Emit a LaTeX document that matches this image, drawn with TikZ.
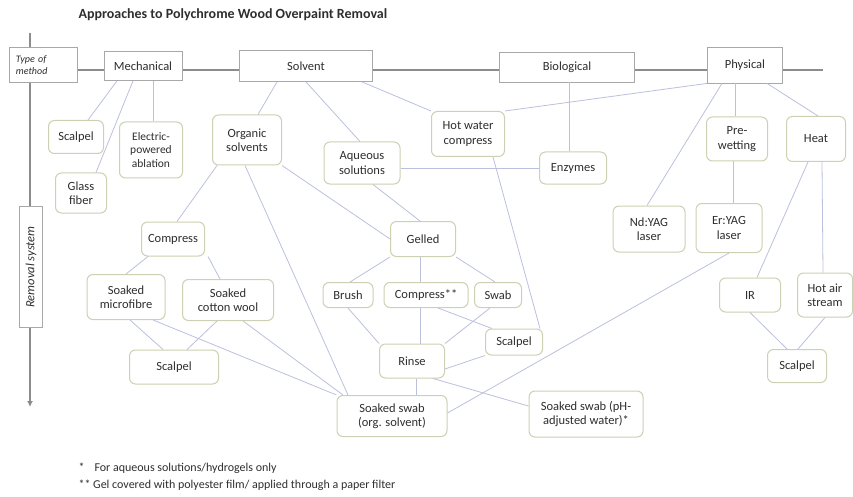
\documentclass[tikz,border=0pt]{standalone}
\usepackage{fontspec}
\setmainfont{Carlito}
\usetikzlibrary{arrows.meta}
\definecolor{axisgray}{HTML}{8C8C8C}
\definecolor{boxgray}{HTML}{A8A8A8}
\definecolor{boxolive}{HTML}{CDD0B2}
\definecolor{linkblue}{HTML}{BBC0DD}
\definecolor{textgray}{HTML}{2E2E2E}
\newcommand{\nodefont}{\fontsize{12.5}{14.5}\selectfont}
\tikzset{
  methodbox/.style 2 args={draw=boxgray, fill=white, line width=0.8pt, inner sep=0pt,
    minimum width=#1, minimum height=#2, font=\nodefont, text=textgray},
  sysbox/.style 2 args={draw=boxolive, fill=white, rounded corners=6pt, line width=1pt,
    inner sep=0pt, align=center, minimum width=#1, minimum height=#2, font=\nodefont, text=textgray},
  link/.style={draw=linkblue, line width=0.8pt},
  axisline/.style={draw=axisgray, line width=2.5pt}
}
\begin{document}
\begin{tikzpicture}[x=1pt, y=-1pt]
        \useasboundingbox (0,0) rectangle (853,497);
        \node[anchor=west, font=\fontsize{14}{16}\selectfont\bfseries, text=textgray] (title) at (75,15) {Approaches to Polychrome Wood Overpaint Removal};
        \coordinate (htop) at (77,70);
        \coordinate (hend) at (823,70);
        \coordinate (vtop) at (30,33);
        \coordinate (vend) at (30,407);
        \draw[axisline] (htop) -- (hend);
        \draw[axisline, line width=2pt, -{Latex[length=6pt, width=6pt]}] (vtop) -- (vend);
        % type of method
        \node[methodbox={68pt}{35pt}, align=left, text width=54pt, font=\fontsize{10}{12}\selectfont\itshape] (typem) at (43,65) {Type of\\method};
        \node[methodbox={78pt}{29pt}] (mech) at (143,66) {Mechanical};
        \node[methodbox={133pt}{31pt}] (solv) at (306,66) {Solvent};
        \node[methodbox={135pt}{30pt}] (bio) at (567,67) {Biological};
        \node[methodbox={75pt}{36pt}] (phys) at (745,65) {Physical};
        \node[methodbox={121pt}{23pt}, rotate=90, font=\nodefont\itshape] (removal) at (31,267) {Removal system};
        % removal systems
        \node[sysbox={55pt}{33pt}] (scalM) at (76,137) {Scalpel};
        \node[sysbox={51pt}{40pt}] (glass) at (81,193) {Glass\\fiber};
        \node[sysbox={63pt}{56pt}, font=\fontsize{11.5}{13.5}\selectfont] (elec) at (151,150) {Electric-\\powered\\ablation};
        \node[sysbox={69pt}{50pt}] (org) at (247,140) {Organic\\solvents};
        \node[sysbox={76pt}{42pt}] (aq) at (362,163) {Aqueous\\solutions};
        \node[sysbox={73pt}{45pt}] (hotw) at (468,134) {Hot water\\compress};
        \node[sysbox={67pt}{32pt}] (enz) at (573,168) {Enzymes};
        \node[sysbox={61pt}{44pt}] (prew) at (737,139) {Pre-\\wetting};
        \node[sysbox={59pt}{45pt}] (heat) at (816,139) {Heat};
        \node[sysbox={72pt}{46pt}] (ndyag) at (649,229) {Nd:YAG\\laser};
        \node[sysbox={66pt}{49pt}] (eryag) at (729,228) {Er:YAG\\laser};
        \node[sysbox={61pt}{34pt}] (ir) at (750,295) {IR};
        \node[sysbox={55pt}{44pt}] (hotair) at (825,295) {Hot air\\stream};
        \node[sysbox={59pt}{33pt}] (scalP) at (797,366) {Scalpel};
        \node[sysbox={63pt}{34pt}] (compS) at (173,239) {Compress};
        \node[sysbox={78pt}{45pt}] (micro) at (126,297) {Soaked\\microfibre};
        \node[sysbox={91pt}{41pt}] (cotton) at (228,300) {Soaked\\cotton wool};
        \node[sysbox={89pt}{34pt}] (scalS) at (174,367) {Scalpel};
        \node[sysbox={65pt}{35pt}] (gelled) at (423,239) {Gelled};
        \node[sysbox={50pt}{25pt}] (brush) at (348,295) {Brush};
        \node[sysbox={84pt}{25pt}] (compG) at (426,295) {Compress**};
        \node[sysbox={47pt}{25pt}] (swab) at (498,295) {Swab};
        \node[sysbox={57pt}{26pt}] (scalG) at (514,342) {Scalpel};
        \node[sysbox={65pt}{34pt}] (rinse) at (412,361) {Rinse};
        \node[sysbox={110pt}{41pt}] (swabOrg) at (392,416) {Soaked swab\\(org. solvent)};
        \node[sysbox={114pt}{46pt}] (swabPH) at (586,414) {Soaked swab (pH-\\adjusted water)*};
        % links
        \draw[link] ([xshift=-26pt]mech.south) -- ([xshift=12pt]scalM.north);
        \draw[link] ([xshift=-10pt]mech.south) -- ([xshift=15pt]glass.north);
        \draw[link] ([xshift=10pt]mech.south) -- ([xshift=2pt]elec.north);
        \draw[link] ([xshift=-29pt]solv.south) -- ([xshift=11pt]org.north);
        \draw[link] (solv.south) -- ([xshift=-2pt]aq.north);
        \draw[link] ([xshift=56pt]solv.south) -- (hotw.north west);
        \draw[link] (phys.south west) -- (hotw.north east);
        \draw[link] ([xshift=2.5pt]bio.south) -- ([xshift=-3.5pt]enz.north);
        \draw[link] ([xshift=-23pt]phys.south) -- ([xshift=-2pt]ndyag.north);
        \draw[link] ([xshift=-10pt]phys.south) -- ([xshift=-2pt]prew.north);
        \draw[link] ([xshift=22pt]phys.south) -- ([xshift=2pt]heat.north);
        \draw[link] ([xshift=-4pt]prew.south) -- ([xshift=4pt]eryag.north);
        \draw[link] ([xshift=-8pt]heat.south) -- ([xshift=7pt]ir.north);
        \draw[link] ([xshift=6pt]heat.south) -- ([xshift=-2pt]hotair.north);
        \draw[link] (ir.south) -- ([xshift=-10pt]scalP.north);
        \draw[link] (hotair.south) -- ([xshift=1pt]scalP.north);
        \draw[link] ([yshift=-5pt]aq.east) -- (enz.west);
        \draw[link] ([xshift=-30pt]org.south) -- ([xshift=4pt]compS.north);
        \draw[link] (org.south east) -- (gelled.west);
        \draw[link] ([xshift=-2pt]org.south) -- ([xshift=-44pt]swabOrg.north);
        \draw[link] ([xshift=11pt]aq.south) -- ([xshift=-3pt]gelled.north);
        \draw[link] ([xshift=25pt]hotw.south) -- ([xshift=26pt]scalG.north);
        \draw[link] (gelled.south west) -- ([xshift=2pt]brush.north);
        \draw[link] ([xshift=-3pt]gelled.south) -- ([xshift=-6pt]compG.north);
        \draw[link] (gelled.south east) -- ([xshift=-3pt]swab.north);
        \draw[link] ([xshift=-6pt]compG.south) -- ([xshift=8pt]rinse.north);
        \draw[link] (brush.south) -- (rinse.north west);
        \draw[link] ([xshift=12pt]compG.south) -- ([xshift=-22pt]scalG.north);
        \draw[link] ([xshift=-8pt]swab.south) -- (rinse.north east);
        \draw[link] (scalG.south west) -- ([yshift=-8pt]rinse.east);
        \draw[link] ([xshift=21pt]rinse.south) -- ([yshift=8pt]swabPH.west);
        \draw[link] ([xshift=4pt]rinse.south) -- ([xshift=24pt]swabOrg.north);
        \draw[link] (eryag.south) -- ([yshift=3pt]swabOrg.east);
        \draw[link] ([xshift=-25pt]compS.south) -- (micro.north);
        \draw[link] ([xshift=35pt]compS.south) -- ([xshift=-8pt]cotton.north);
        \draw[link] ([xshift=4pt]micro.south) -- ([xshift=-11pt]scalS.north);
        \draw[link] ([xshift=-11pt]cotton.south) -- ([xshift=13pt]scalS.north);
        \draw[link] ([xshift=27pt]micro.south) -- (swabOrg.north west);
        \draw[link] ([xshift=15pt]cotton.south) -- ([xshift=-49pt]swabOrg.north);
        % notes
        \node[anchor=west, font=\fontsize{12}{14}\selectfont, text=textgray] (note1) at (75,468) {*\hspace*{10pt}For aqueous solutions/hydrogels only};
        \node[anchor=west, font=\fontsize{12}{14}\selectfont, text=textgray] (note2) at (75,485) {** Gel covered with polyester film/ applied through a paper filter};
\end{tikzpicture}
\end{document}
